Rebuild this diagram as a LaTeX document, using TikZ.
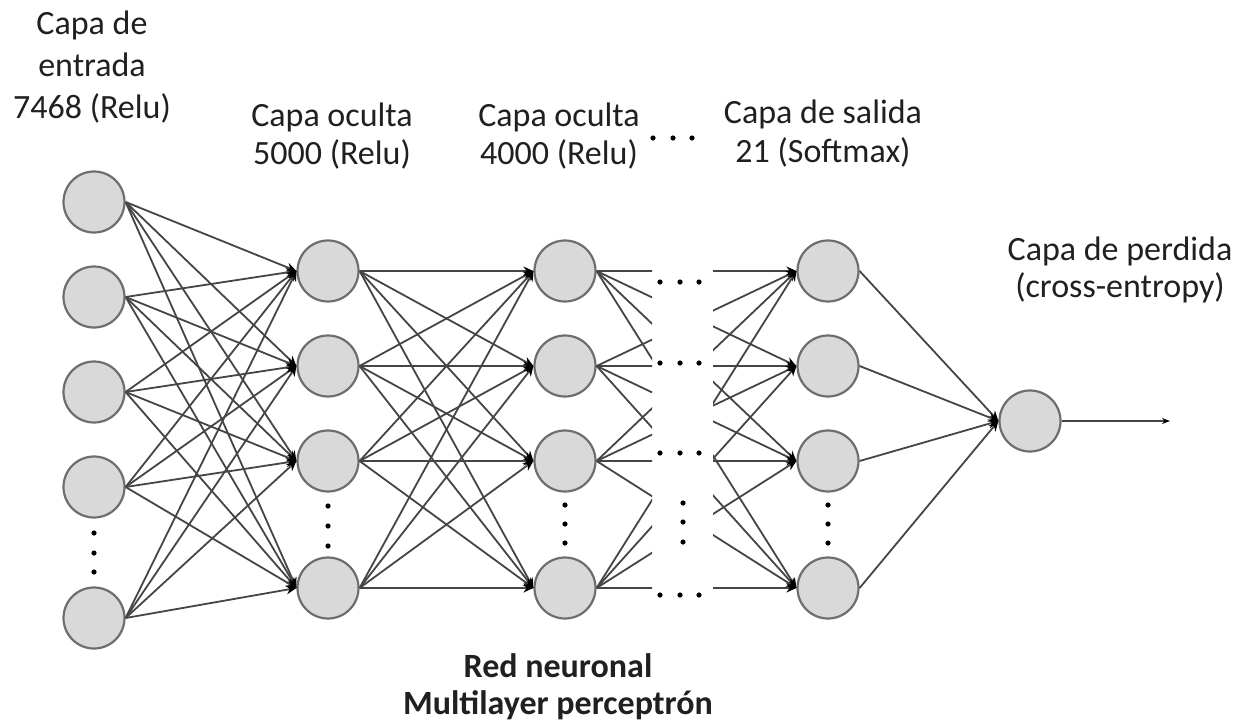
\documentclass[tikz,border=0pt]{standalone}
\usepackage{fontspec}
\setmainfont{Carlito}
\usetikzlibrary{arrows.meta}
\definecolor{ncirc}{HTML}{6E6E6E}
\definecolor{nfill}{HTML}{D9D9D9}
\definecolor{nedge}{HTML}{454545}
\definecolor{ntext}{HTML}{202020}
\begin{document}
\begin{tikzpicture}[x=1pt,y=-1pt,
  neuron/.style={circle, draw=ncirc, fill=nfill, line width=2.2pt, minimum size=61pt, inner sep=0pt},
  edge/.style={draw=nedge, line width=1.8pt},
  arr/.style={edge, -{Stealth[length=10pt,width=9pt,color=black]}},
  lbl/.style={align=center, inner sep=0pt, anchor=base, text=ntext},
  dotc/.style={fill=black}]
\useasboundingbox (0,0) rectangle (1245,724);
\fill[white] (0,0) rectangle (1245,724);
% input layer
\node[neuron] (i1) at (94,202) {};
\node[neuron] (i2) at (94,297) {};
\node[neuron] (i3) at (94,392) {};
\node[neuron] (i4) at (94,487) {};
\node[neuron] (i5) at (94,618) {};
% hidden 1
\node[neuron] (a1) at (328,271) {};
\node[neuron] (a2) at (328,366) {};
\node[neuron] (a3) at (328,461) {};
\node[neuron] (a4) at (328,588) {};
% hidden 2
\node[neuron] (b1) at (565,271) {};
\node[neuron] (b2) at (565,366) {};
\node[neuron] (b3) at (565,461) {};
\node[neuron] (b4) at (565,588) {};
% output
\node[neuron] (c1) at (828,271) {};
\node[neuron] (c2) at (828,366) {};
\node[neuron] (c3) at (828,461) {};
\node[neuron] (c4) at (828,588) {};
% loss
\node[neuron] (l) at (1030,421) {};
\coordinate (out) at (1170,421);

% connections
\foreach \i in {1,...,5}
  \foreach \j in {1,...,4}
    \draw[arr] (i\i.east) -- (a\j.west);
\foreach \i in {1,...,4}
  \foreach \j in {1,...,4}
    \draw[arr] (a\i.east) -- (b\j.west);
\begin{scope}
  \clip (0,0) rectangle (652,724);
  \foreach \i in {1,...,4}
    \foreach \j in {1,...,4}
      \draw[edge] (b\i.east) -- (c\j.west);
\end{scope}
\begin{scope}
  \clip (713,0) rectangle (1245,724);
  \foreach \i in {1,...,4}
    \foreach \j in {1,...,4}
      \draw[arr] (b\i.east) -- (c\j.west);
\end{scope}
\foreach \j in {1,...,4}
  \draw[arr] (c\j.east) -- (l.west);
\draw[edge, line width=1.4pt, -{Stealth[length=8pt,width=6pt,color=black]}] (l.east) -- (out);

% vertical dots
\foreach \x/\ya/\yb/\yc in {94/533/553/572, 328/506/526/546, 565/505/524/543, 828/505/524/543, 683/503/522/542}{
  \fill[dotc] (\x,\ya) circle (2.6pt);
  \fill[dotc] (\x,\yb) circle (2.6pt);
  \fill[dotc] (\x,\yc) circle (2.6pt);
}
% horizontal dots
\foreach \y in {282,363,453,595}{
  \fill[dotc] (660,\y) circle (2.6pt);
  \fill[dotc] (680,\y) circle (2.6pt);
  \fill[dotc] (699,\y) circle (2.6pt);
}
\fill[dotc] (653,138) circle (2.6pt);
\fill[dotc] (673,138) circle (2.6pt);
\fill[dotc] (692,138) circle (2.6pt);

% labels (anchor base = baseline of last line)
\node[lbl, font=\fontsize{34}{42}\selectfont] (t0) at (92,118) {Capa de\\entrada\\7468 (Relu)};
\node[lbl, font=\fontsize{34}{38}\selectfont] (t1) at (332,164) {Capa oculta\\5000 (Relu)};
\node[lbl, font=\fontsize{34}{38}\selectfont] (t2) at (559,164) {Capa oculta\\4000 (Relu)};
\node[lbl, font=\fontsize{34}{39}\selectfont] (t3) at (823,162) {Capa de salida\\21 (Softmax)};
\node[lbl, font=\fontsize{34}{37}\selectfont] (t4) at (1120,297) {Capa de perdida\\(cross-entropy)};
\node[lbl, font=\fontsize{34}{37}\selectfont\bfseries] (t5) at (558,714) {Red neuronal\\Multilayer perceptrón};
\end{tikzpicture}
\end{document}
